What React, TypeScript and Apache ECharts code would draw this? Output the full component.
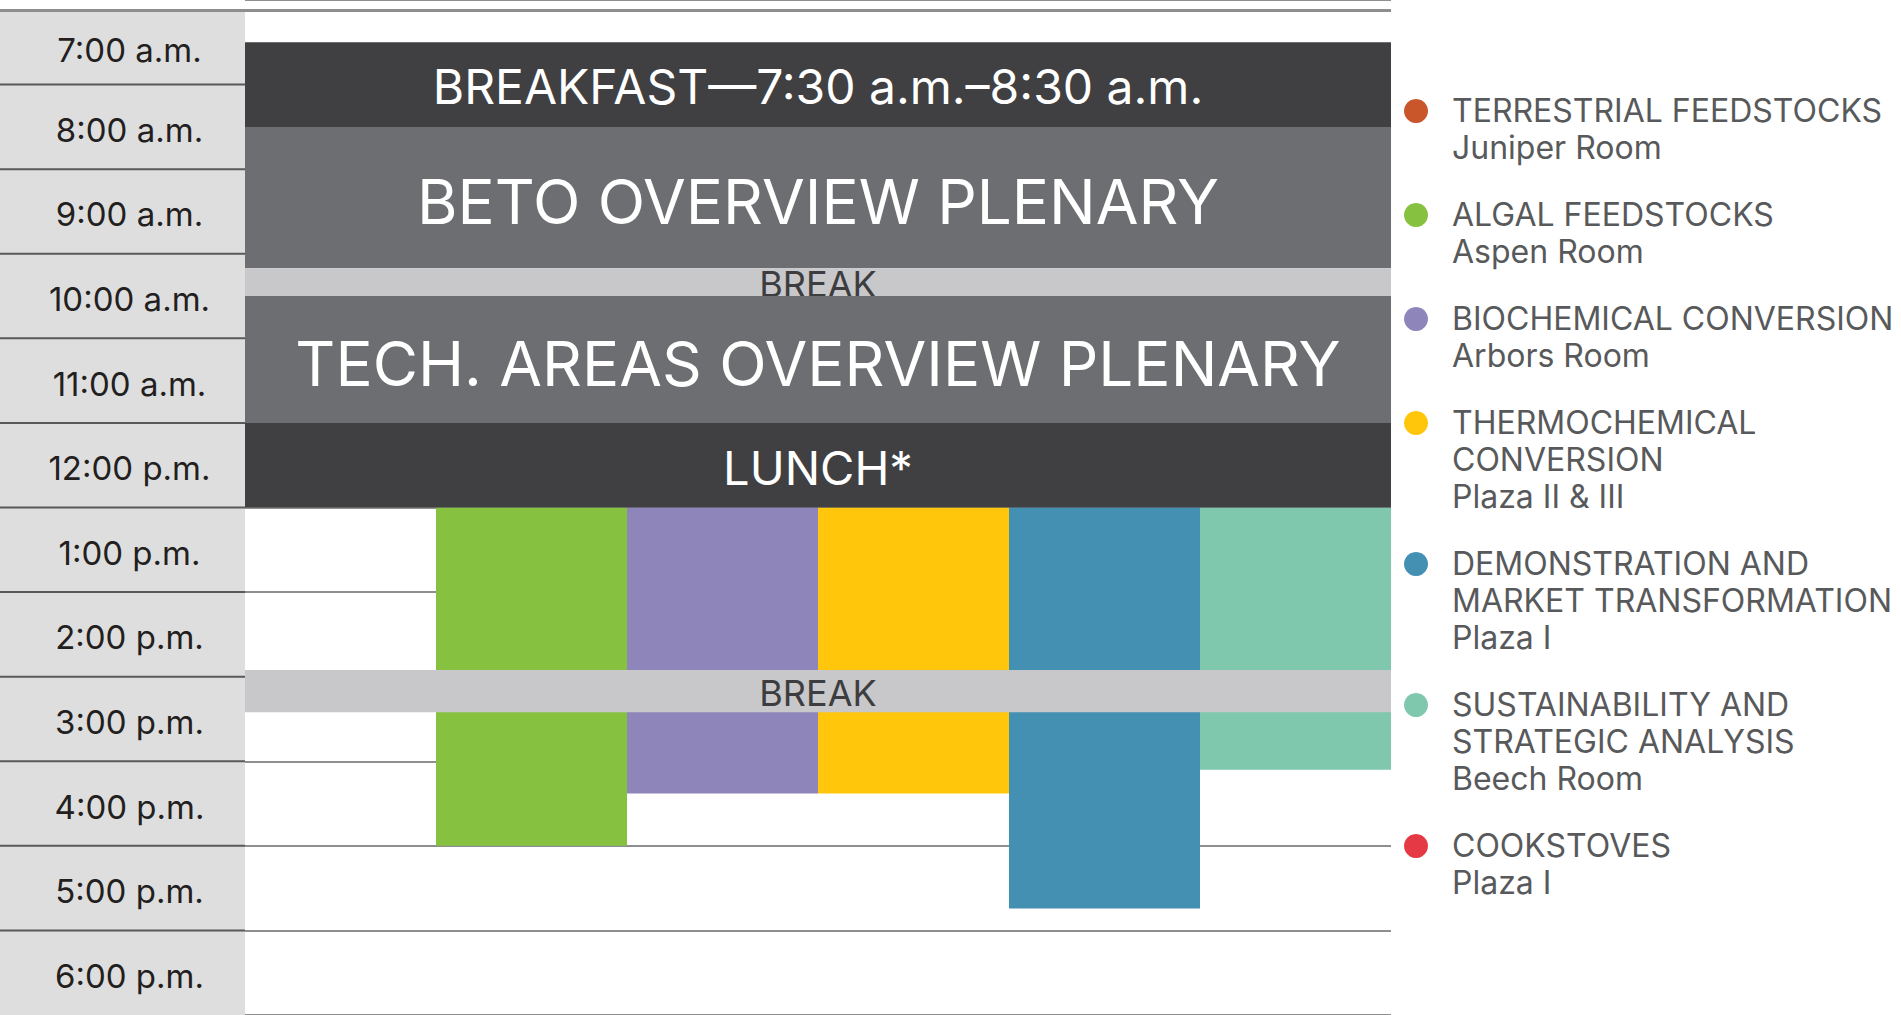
import React, { useEffect, useRef } from 'react';
import * as echarts from 'echarts';

// ---- data ----
const timeLabels = ['7:00 a.m.', '8:00 a.m.', '9:00 a.m.', '10:00 a.m.', '11:00 a.m.', '12:00 p.m.', '1:00 p.m.', '2:00 p.m.', '3:00 p.m.', '4:00 p.m.', '5:00 p.m.', '6:00 p.m.'];
const firstHour = 7;
const lastHour = 19;
const frameTop = 7.12;

const plenaryNames = ['BREAKFAST—7:30 a.m.–8:30 a.m.', 'BETO OVERVIEW PLENARY', 'BREAK', 'TECH. AREAS OVERVIEW PLENARY', 'LUNCH*', 'BREAK'];
const plenaryStart = [7.5, 8.5, 10.17, 10.5, 12.0, 14.92];
const plenaryEnd = [8.5, 10.17, 10.5, 12.0, 13.0, 15.42];
const plenaryKind = ['breakfast', 'plenary', 'break', 'plenary', 'lunch', 'break'];

const trackTitles = [
  ['TERRESTRIAL FEEDSTOCKS'],
  ['ALGAL FEEDSTOCKS'],
  ['BIOCHEMICAL CONVERSION'],
  ['THERMOCHEMICAL', 'CONVERSION'],
  ['DEMONSTRATION AND', 'MARKET TRANSFORMATION'],
  ['SUSTAINABILITY AND', 'STRATEGIC ANALYSIS'],
  ['COOKSTOVES'],
];
const trackRooms = ['Juniper Room', 'Aspen Room', 'Arbors Room', 'Plaza II & III', 'Plaza I', 'Beech Room', 'Plaza I'];
const trackColors = ['#c9562b', '#86c240', '#8e86bb', '#ffc60b', '#4390b3', '#7fc8ae', '#e63946'];
const columnCount = 6;

const sessionTrack = [1, 2, 3, 4, 5];
const sessionStart = [13, 13, 13, 13, 13];
const sessionEnd = [17.0, 16.38, 16.38, 17.74, 16.1];

// ---- styles ----
const FONT = 'Inter, "Open Sans", sans-serif';
const kindStyle: Record<string, { fill: string; color: string; size: number }> = {
  breakfast: { fill: '#404042', color: '#ffffff', size: 48 },
  lunch: { fill: '#404042', color: '#ffffff', size: 47 },
  plenary: { fill: '#6d6e71', color: '#ffffff', size: 62 },
  break: { fill: '#c8c8ca', color: '#3d3d3f', size: 36 },
};

export default function App() {
  const ref = useRef<HTMLDivElement>(null);
  useEffect(() => {
    if (!ref.current) return;
    const chart = echarts.init(ref.current, undefined, { renderer: 'svg' });

    const legendEls: any[] = [];
    let y = 110;
    const lineH = 37;
    trackTitles.forEach((lines, i) => {
      legendEls.push({
        type: 'circle',
        shape: { cx: 1416, cy: y + 1, r: 12 },
        style: { fill: trackColors[i] },
      });
      const all = [...lines, trackRooms[i]];
      all.forEach((t, j) => {
        legendEls.push({
          type: 'text',
          x: 1452,
          y: y + j * lineH,
          style: {
            text: t,
            fill: '#58595b',
            fontSize: 32,
            fontFamily: FONT,
            textAlign: 'left',
            textVerticalAlign: 'middle',
            align: 'left',
            verticalAlign: 'middle',
          },
        });
      });
      y += all.length * lineH + 30;
    });

    const option: any = {
      animation: false,
      backgroundColor: '#ffffff',
      grid: [
        { left: 0, top: -3, width: 245, height: 1019 },
        { left: 245, top: -3, width: 1146, height: 1019 },
      ],
      xAxis: [
        { gridIndex: 0, type: 'value', min: 0, max: 1, show: false },
        { gridIndex: 1, type: 'value', min: 0, max: columnCount, show: false },
      ],
      yAxis: [
        { gridIndex: 0, type: 'value', min: firstHour, max: lastHour, inverse: true, show: false },
        {
          gridIndex: 1, type: 'value', min: firstHour, max: lastHour, interval: 1, inverse: true,
          axisLabel: { show: false }, axisLine: { show: false }, axisTick: { show: false },
          splitLine: { show: true, lineStyle: { color: '#8e8e8e', width: 2 } },
        },
      ],
      series: [
        {
          type: 'custom',
          xAxisIndex: 0,
          yAxisIndex: 0,
          data: timeLabels.map((_, i) => [firstHour + i]),
          renderItem: (params: any, api: any) => {
            const h = api.value(0);
            const top = Math.max(h, frameTop);
            const p0 = api.coord([0, top]);
            const p1 = api.coord([1, h + 1]);
            const children: any[] = [
              { type: 'rect', shape: { x: p0[0], y: p0[1], width: p1[0] - p0[0], height: p1[1] - p0[1] }, style: { fill: '#dedede' } },
            ];
            if (h > firstHour) {
              children.push({ type: 'line', shape: { x1: p0[0], y1: p0[1], x2: p1[0], y2: p0[1] }, style: { stroke: '#58595b', lineWidth: 2 } });
            }
            children.push({
              type: 'text',
              style: {
                text: timeLabels[params.dataIndex],
                x: (p0[0] + p1[0]) / 2 + 7,
                y: (p0[1] + p1[1]) / 2 + 3,
                fill: '#231f20',
                fontSize: 33,
                fontFamily: FONT,
                textAlign: 'center',
                textVerticalAlign: 'middle',
                align: 'center',
                verticalAlign: 'middle',
              },
            });
            return { type: 'group', children };
          },
          markLine: {
            silent: true, symbol: 'none', label: { show: false },
            lineStyle: { color: '#8e8e8e', width: 3, type: 'solid' },
            data: [{ yAxis: frameTop }],
          },
          z: 2,
        },
        {
          type: 'custom',
          xAxisIndex: 1,
          yAxisIndex: 1,
          data: sessionTrack.map((c, i) => [c, c + 1, sessionStart[i], sessionEnd[i]]),
          renderItem: (params: any, api: any) => {
            const p0 = api.coord([api.value(0), api.value(2)]);
            const p1 = api.coord([api.value(1), api.value(3)]);
            return {
              type: 'rect',
              shape: { x: p0[0], y: p0[1], width: p1[0] - p0[0], height: p1[1] - p0[1] },
              style: { fill: trackColors[sessionTrack[params.dataIndex]] },
            };
          },
          markLine: {
            silent: true, symbol: 'none', label: { show: false },
            lineStyle: { color: '#8e8e8e', width: 3, type: 'solid' },
            data: [{ yAxis: frameTop }],
          },
          z: 2,
        },
        {
          type: 'custom',
          xAxisIndex: 1,
          yAxisIndex: 1,
          data: plenaryNames.map((_, i) => [0, columnCount, plenaryStart[i], plenaryEnd[i]]),
          renderItem: (params: any, api: any) => {
            const i = params.dataIndex;
            const st = kindStyle[plenaryKind[i]];
            const p0 = api.coord([api.value(0), api.value(2)]);
            const p1 = api.coord([api.value(1), api.value(3)]);
            return {
              type: 'group',
              children: [
                { type: 'rect', shape: { x: p0[0], y: p0[1], width: p1[0] - p0[0], height: p1[1] - p0[1] }, style: { fill: st.fill } },
                {
                  type: 'text',
                  style: {
                    text: plenaryNames[i],
                    x: (p0[0] + p1[0]) / 2,
                    y: (p0[1] + p1[1]) / 2 + (plenaryKind[i] === 'plenary' ? 4 : 2),
                    fill: st.color,
                    fontSize: st.size,
                    fontFamily: FONT,
                    textAlign: 'center',
                    textVerticalAlign: 'middle',
                    align: 'center',
                    verticalAlign: 'middle',
                  },
                },
              ],
            };
          },
          z: 3,
        },
      ],
      graphic: legendEls,
    };
    chart.setOption(option);
    return () => chart.dispose();
  }, []);
  return <div ref={ref} style={{ position: 'absolute', left: 0, top: 0, width: 1901, height: 1015 }} />;
}
